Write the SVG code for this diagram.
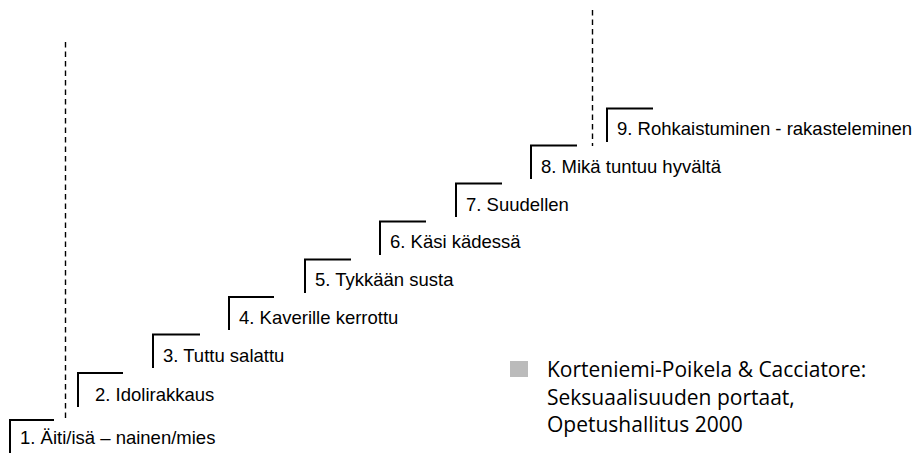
<svg xmlns="http://www.w3.org/2000/svg" width="917" height="453" viewBox="0 0 917 453">
<style>
.step{fill:none;stroke:#000;stroke-width:2;}
.lbl{font-family:"Liberation Sans",Arial,sans-serif;font-size:18.5px;fill:#000;}
.dash{stroke:#000;stroke-width:1.4;stroke-dasharray:5.5 4;fill:none;}
.src{font-family:"Open Sans","Noto Sans",sans-serif;font-size:21px;fill:#000;}
</style>
<rect width="917" height="453" fill="#fff"/>
<g id="guides">
<line class="dash" x1="65.5" y1="42" x2="65.5" y2="420"/>
<line class="dash" x1="592.5" y1="10" x2="592.5" y2="146"/>
</g>
<g id="step1"><path class="step" d="M10,453 V420 H54"/><text class="lbl" x="20" y="444">1. Äiti/isä – nainen/mies</text></g>
<g id="step2"><path class="step" d="M78,407 V373 H123"/><text class="lbl" x="95" y="401">2. Idolirakkaus</text></g>
<g id="step3"><path class="step" d="M153,368 V334.5 H200"/><text class="lbl" x="163" y="362">3. Tuttu salattu</text></g>
<g id="step4"><path class="step" d="M229,330 V297 H274"/><text class="lbl" x="239" y="324">4. Kaverille kerrottu</text></g>
<g id="step5"><path class="step" d="M305,293 V259.5 H351"/><text class="lbl" x="315" y="286">5. Tykkään susta</text></g>
<g id="step6"><path class="step" d="M380,255 V221.5 H426"/><text class="lbl" x="390" y="248">6. Käsi kädessä</text></g>
<g id="step7"><path class="step" d="M456,217 V183.5 H502"/><text class="lbl" x="466" y="211">7. Suudellen</text></g>
<g id="step8"><path class="step" d="M531,179 V145.5 H577"/><text class="lbl" x="541" y="173">8. Mikä tuntuu hyvältä</text></g>
<g id="step9"><path class="step" d="M607,142 V108.5 H653"/><text class="lbl" x="617" y="135">9. Rohkaistuminen - rakasteleminen</text></g>
<g id="source">
<rect x="510" y="361" width="18" height="16" fill="#bbbbbb"/>
<text class="src" x="547" y="377">Korteniemi-Poikela &amp; Cacciatore:</text>
<text class="src" x="547" y="404.5">Seksuaalisuuden portaat,</text>
<text class="src" x="547" y="432">Opetushallitus 2000</text>
</g>
</svg>
